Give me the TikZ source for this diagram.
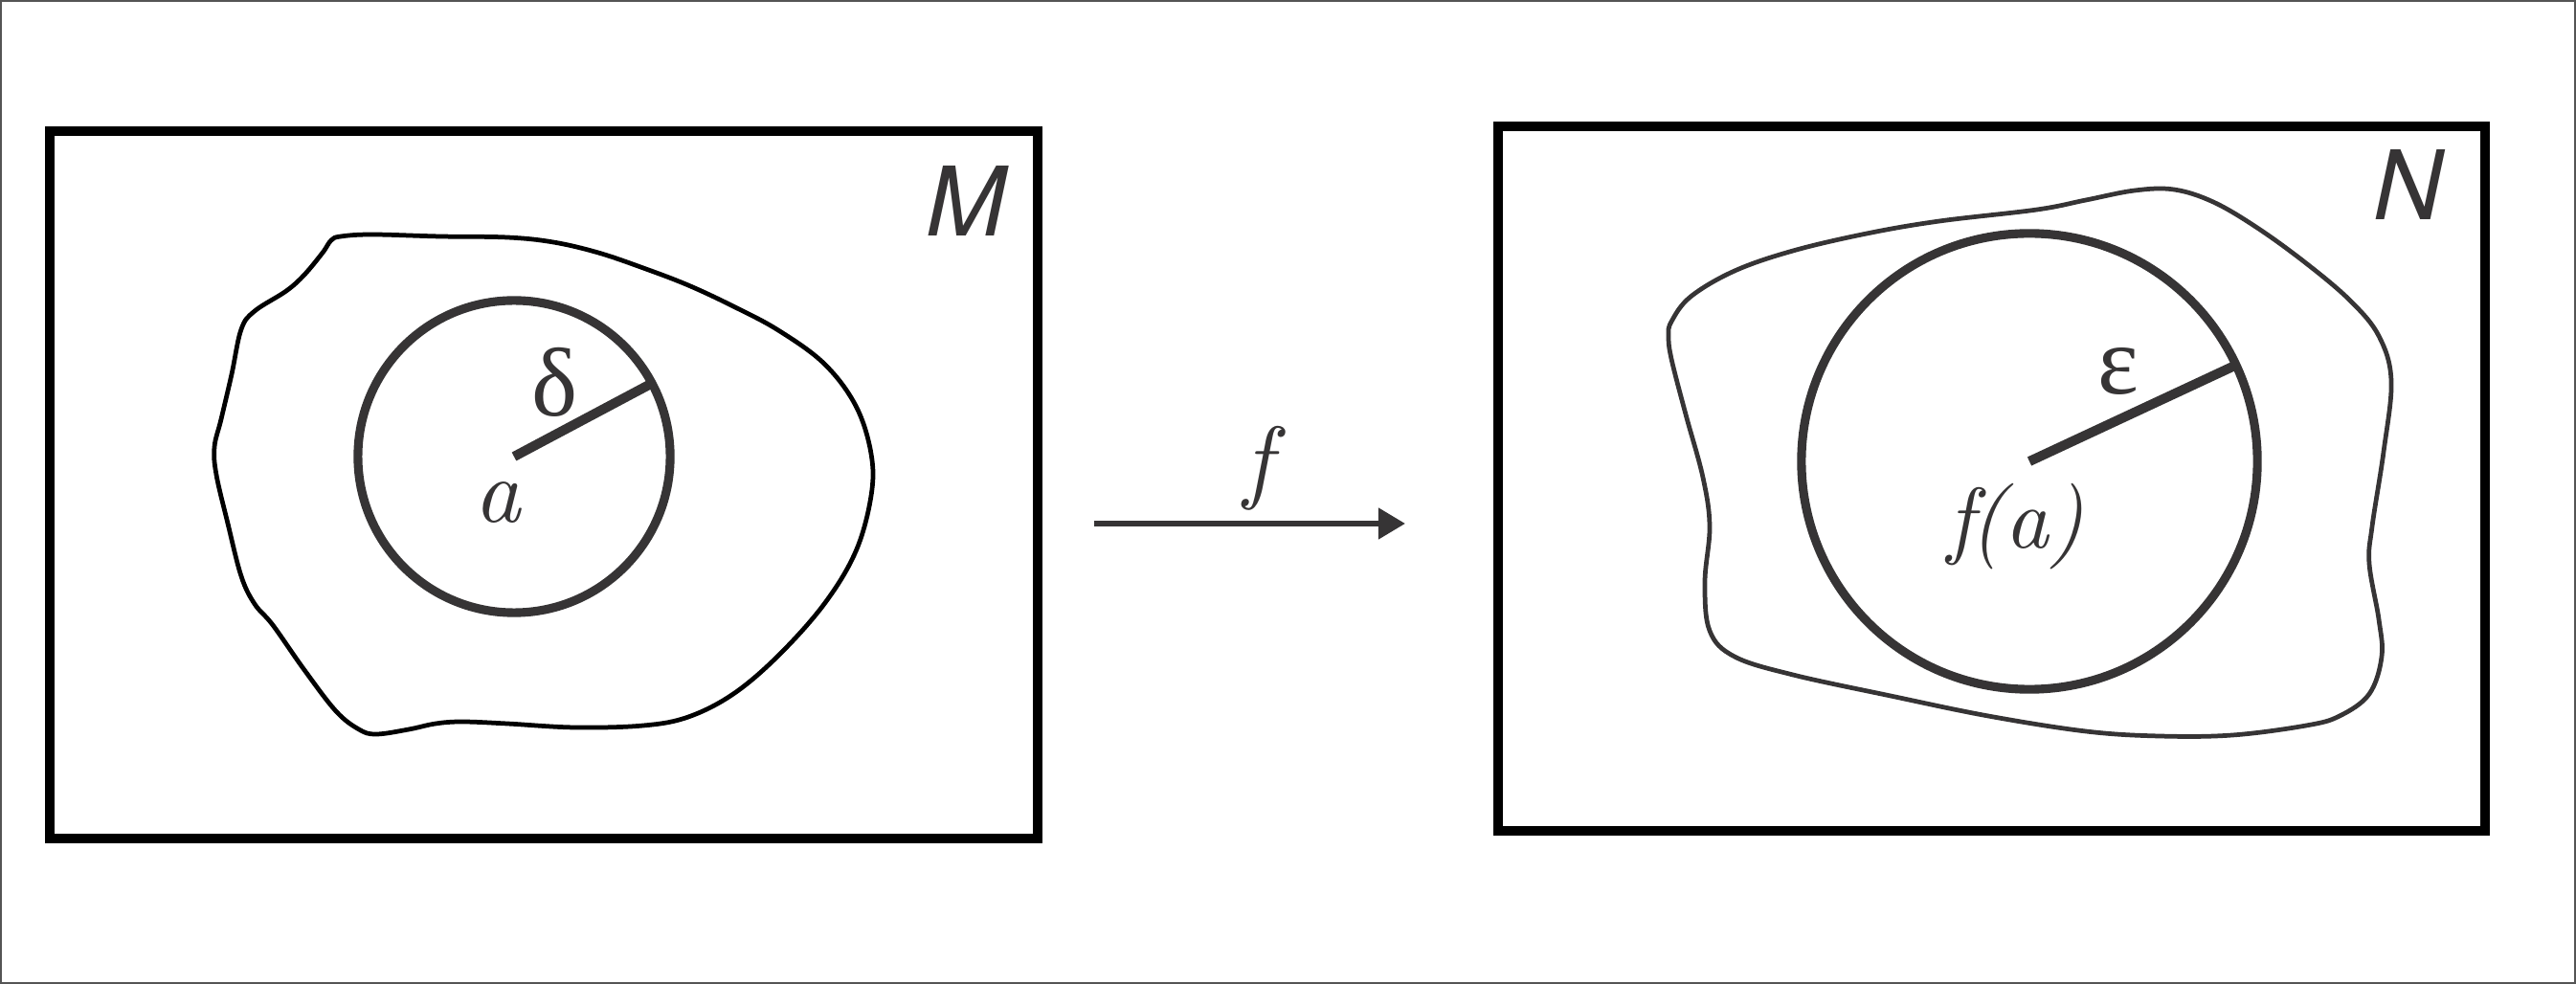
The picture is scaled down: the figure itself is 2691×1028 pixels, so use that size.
\documentclass[tikz,border=0pt]{standalone}
\usepackage{fontspec}
\newfontfamily\grkfont{Liberation Serif}
\newfontfamily\sansit{TeX Gyre Heros}
\usetikzlibrary{arrows.meta}
\definecolor{ink}{HTML}{363435}
\definecolor{edge}{HTML}{555555}
\newcommand{\itlbl}[2]{\scalebox{#1}{\fontsize{10}{12}\selectfont\itshape #2}}
\begin{document}
\begin{tikzpicture}[x=0.01cm,y=-0.01cm,
  boxframe/.style={draw=black,line width=2.9pt,rectangle,inner sep=0pt,outer sep=0pt},
  ball/.style={circle,draw=ink,line width=2.6pt,inner sep=0pt,outer sep=0pt},
  rline/.style={draw=ink,line width=2.85pt},
  blob/.style={line width=1.35pt,smooth cycle,tension=0.6},
  lbl/.style={text=ink,inner sep=0pt},
  grk/.style={lbl,font=\fontsize{29}{35}\grkfont},
  spc/.style={lbl,font=\fontsize{28.5}{34}\sansit\itshape},
  mapline/.style={draw=ink,line width=1.7pt,-{Triangle[length=8pt,width=9pt]}}]
\useasboundingbox (0,0) rectangle (2691,1028);
\draw[edge,line width=0.6pt] (1,1) rectangle (2690,1027);
% boxes
\node[boxframe,minimum width=10.32cm,minimum height=7.39cm] (M) at (568,506.5) {};
\node[boxframe,minimum width=10.31cm,minimum height=7.36cm] (N) at (2080.5,500) {};
% left blob
\draw[black,blob] plot coordinates {(356,247) (389,245) (460,247) (530,248) (578,253) (625,264) (672,280) (719,298) (766,320) (813,345) (861,380) (894,424) (910,474) (910,518) (894,576) (861,631) (813,685) (766,725) (719,749) (672,758) (601,760) (530,756) (483,754) (455,756) (427,762) (393,767) (375,762) (351,743) (318,700) (285,653) (266,631) (252,602) (238,547) (226,496) (224,467) (231,438) (242,391) (252,344) (266,325) (299,304) (318,287) (337,264) (346,251)};
% right blob
\draw[ink,blob] plot coordinates {(1746,336) (1766,310) (1812,283) (1873,262) (1950,244) (2026,231) (2128,219) (2179,209) (2230,199) (2271,198) (2312,211) (2358,238) (2409,275) (2455,314) (2485,351) (2498,398) (2490,472) (2478,550) (2475,589) (2485,647) (2488,686) (2475,725) (2444,748) (2409,758) (2332,768) (2256,769) (2179,764) (2077,748) (1975,727) (1873,705) (1812,686) (1786,659) (1781,608) (1786,550) (1779,499) (1761,433) (1746,375) (1743,351)};
% balls
\node[ball,minimum size=3.26cm] (cl) at (537,477) {};
\node[ball,minimum size=4.76cm] (cr) at (2120,482) {};
\draw[rline] (cl.center) -- (cl.28);
\draw[rline] (cr.center) -- (cr.25);
% labels
\node[grk] (delta) at (580,399) {δ};
\node[lbl] (a) at (520,525) {\itlbl{2.7}{a}};
\node[spc] (Mlab) at (1009,210) {M};
\node[spc] (Nlab) at (2516,193) {N};
\node[grk] (eps) at (2213,388) {ε};
\node[lbl] (fa) at (2106,550) {\itlbl{2.55}{f\kern-0.05em(a)}};
% map arrow
\coordinate (fs) at (1143,547);
\coordinate (fe) at (1468,547);
\draw[mapline] (fs) -- (fe);
\node[lbl] (flab) at (1314,489) {\itlbl{2.75}{f}};
\end{tikzpicture}
\end{document}
